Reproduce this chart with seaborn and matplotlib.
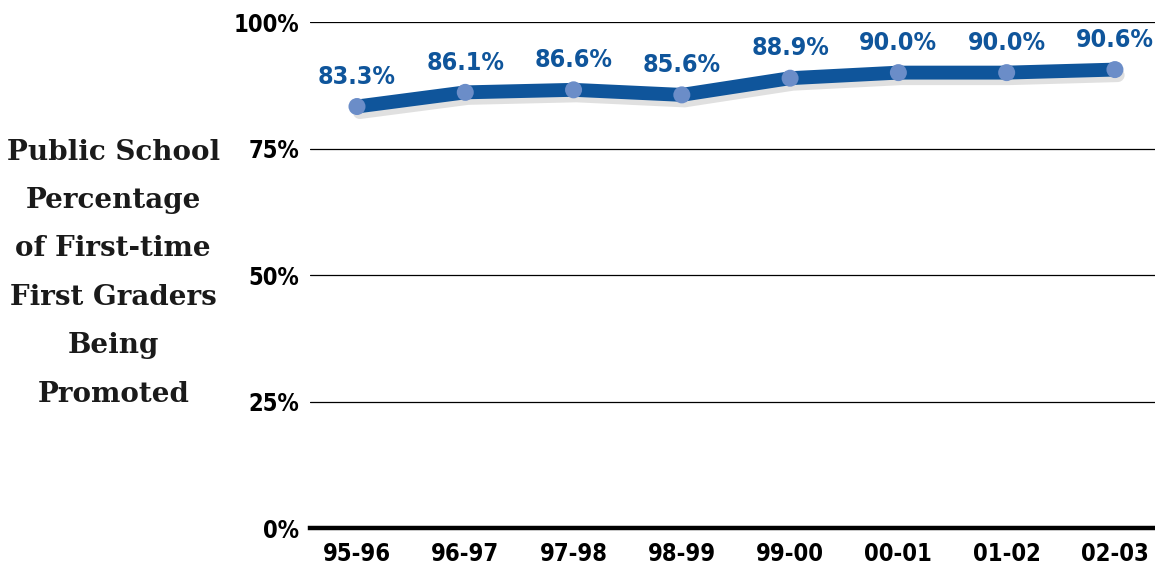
import matplotlib.pyplot as plt
import matplotlib.patheffects as pe
import seaborn as sns
import pandas as pd

years = ["95-96", "96-97", "97-98", "98-99", "99-00", "00-01", "01-02", "02-03"]
promoted = [83.3, 86.1, 86.6, 85.6, 88.9, 90.0, 90.0, 90.6]
y_ticks = [0, 25, 50, 75, 100]

df = pd.DataFrame({"year": years, "pct": promoted})
df["pos"] = range(len(df))

sns.set_theme(style="white")
plt.rcParams["font.family"] = ["DejaVu Sans"]

line_blue = "#0f559b"
dot_blue = "#6b8dc8"

fig = plt.figure(figsize=(11.55, 5.69), dpi=100)
ax = fig.add_axes([0.2684, 0.072, 0.7316, 0.8893])

for t in y_ticks[1:]:
    ax.axhline(t, color="black", lw=0.9, zorder=1)

# thick line with a soft drop shadow
sns.lineplot(data=df, x="pos", y="pct", ax=ax, color=line_blue, lw=10,
             solid_capstyle="round", zorder=3,
             path_effects=[pe.SimpleLineShadow(offset=(2, -4), shadow_color="#666666", alpha=0.2),
                           pe.Normal()])
sns.scatterplot(data=df, x="pos", y="pct", ax=ax, color=dot_blue, s=150,
                edgecolor="none", zorder=4)

for x, v in zip(df["pos"], df["pct"]):
    ax.text(x, v + 3.5, f"{v:.1f}%", ha="center", va="bottom", color=line_blue,
            fontsize=18, fontweight="bold", fontstretch="condensed", zorder=5)

ax.set_xlim(-0.434, 7.37)
ax.set_ylim(0, 100)
ax.set_xticks(df["pos"])
ax.set_xticklabels(years)
ax.set_yticks(y_ticks)
ax.set_yticklabels([f"{t}%" for t in y_ticks])
ax.tick_params(axis="both", length=0, labelsize=17, colors="black")
ax.tick_params(axis="y", pad=8)
ax.tick_params(axis="x", pad=10)
for lab in ax.get_xticklabels() + ax.get_yticklabels():
    lab.set_fontweight("bold")
    lab.set_fontstretch("condensed")
ax.set_xlabel("")
ax.set_ylabel("")
for s in ["top", "right", "left"]:
    ax.spines[s].set_visible(False)
ax.spines["bottom"].set_linewidth(3.2)
ax.spines["bottom"].set_color("black")

fig.text(0.098, 0.52,
         "Public School\nPercentage\nof First-time\nFirst Graders\nBeing\nPromoted",
         ha="center", va="center", fontsize=20, fontweight="bold",
         family=["DejaVu Serif"], color="#1a1a1a", linespacing=2.02)

fig.savefig("out.png", dpi=100)
